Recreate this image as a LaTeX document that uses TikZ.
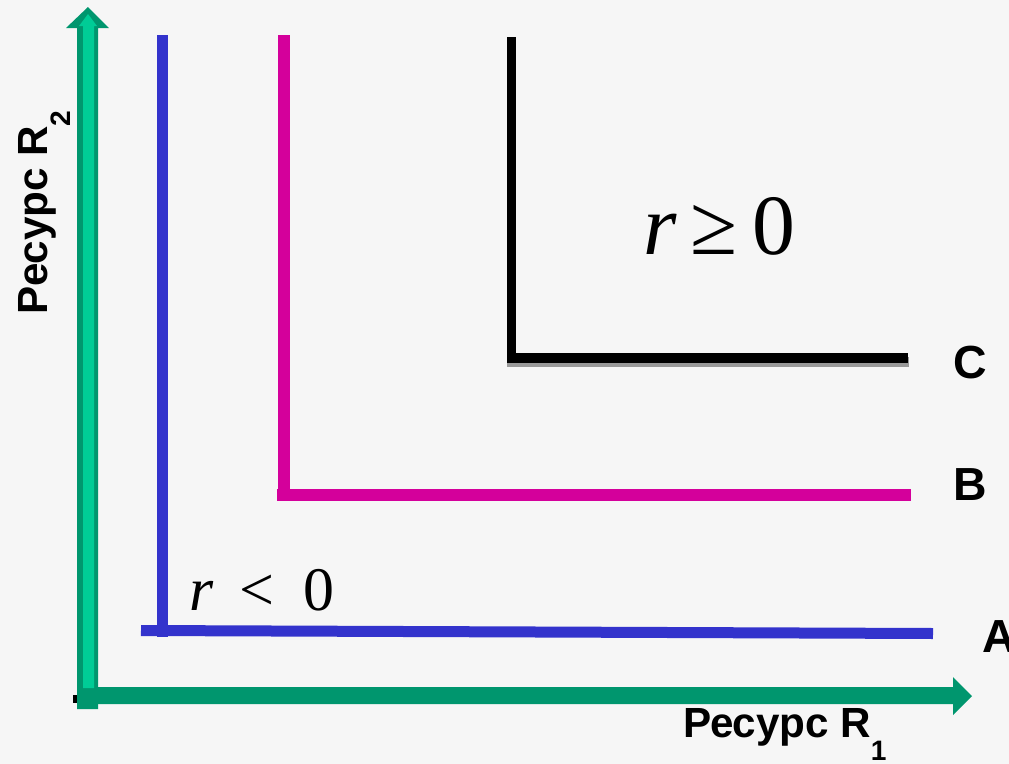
\documentclass[tikz,border=0pt]{standalone}
\usepackage{fontspec}
\setmainfont{Liberation Sans}
\newfontfamily\timesfont{Liberation Serif}
\usepackage{xcolor}

\definecolor{axisdark}{HTML}{00966E}
\definecolor{axislight}{HTML}{00CC96}
\definecolor{curveA}{HTML}{3333CC}
\definecolor{curveB}{HTML}{D4009B}
\definecolor{shadowgray}{HTML}{999999}
\definecolor{bggray}{HTML}{F6F6F6}

\begin{document}
\begin{tikzpicture}[x=0.025cm, y=-0.025cm,
    every node/.style={inner sep=0pt, outer sep=0pt},
    curvelabel/.style={font=\fontsize{33}{33}\selectfont\bfseries, anchor=base west},
    axislabel/.style={font=\fontsize{30}{30}\selectfont\bfseries, anchor=base west},
    mathlabel/.style={font=\timesfont, anchor=base west},
    curve/.style={line cap=butt}]
    % Background
    \fill[bggray] (0,0) rectangle (1009,764);
    \clip (0,0) rectangle (1009,764);

    % Horizontal axis
    \fill[axisdark] (78,687) -- (953,687) -- (953,677) -- (972,696) -- (953,715) -- (953,704) -- (78,704) -- cycle;
    \fill[black] (73,695) rectangle (78,703);

    % Vertical axis
    \fill[axisdark] (77,709) -- (77,28) -- (66,28) -- (88,7) -- (109,28) -- (98,28) -- (98,709) -- cycle;
    \fill[axislight] (83,688) -- (83,26) -- (79,26) -- (88,14) -- (97,26) -- (94,26) -- (94,688) -- cycle;

    % Curve A
    \draw[curve, curveA, line width=11*0.7112pt] (162,35) -- (162,637);
    \draw[curve, curveA, line width=11*0.7112pt] (141,630.5) -- (933,633.5);

    % Curve B
    \draw[curve, curveB, line width=12*0.7112pt] (284,35) -- (284,500);
    \draw[curve, curveB, line width=12*0.7112pt] (277,494.5) -- (911,494.5);

    % Curve C with shadow
    \draw[curve, shadowgray, line width=10*0.7112pt] (507,362) -- (909,362);
    \draw[curve, black, line width=9*0.7112pt] (511.5,37) -- (511.5,362);
    \draw[curve, black, line width=10*0.7112pt] (507,358) -- (908,358);

    % Curve labels
    \node[curvelabel] (labC) at (953,378) {C};
    \node[curvelabel] (labB) at (953,500) {B};
    \node[curvelabel] (labA) at (982,652) {A};

    % Region labels
    \node[mathlabel, font=\timesfont\fontsize{61}{61}\selectfont] (lblPos) at (643,254)
        {\itshape r\upshape\hspace{0.17em}≥\hspace{0.17em}0};
    \node[mathlabel, font=\timesfont\fontsize{44}{44}\selectfont] (lblNeg) at (189,610)
        {\itshape r\upshape\hspace{0.42em}<\hspace{0.48em}0};

    % Axis labels
    \node[axislabel] (labX) at (683,737)
        {Ресурс R\raisebox{-17pt}{\fontsize{20}{20}\selectfont 1}};
    \node[axislabel, rotate=90] (labY) at (47,314)
        {Ресурс R\raisebox{-17pt}{\fontsize{20}{20}\selectfont 2}};
\end{tikzpicture}
\end{document}
